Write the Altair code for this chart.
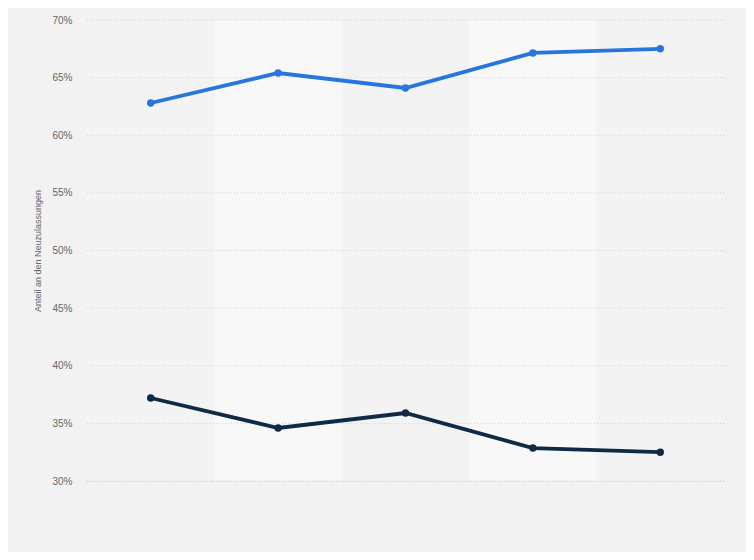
import altair as alt
import pandas as pd

categories = ["2017", "2018", "2019", "2020", "2021"]
series_a_name = "Gewerbliche Halter"
series_b_name = "Private Halter"
series_a = [62.8, 65.4, 64.1, 67.14, 67.5]
series_b = [37.2, 34.6, 35.9, 32.86, 32.5]
y_ticks = [30, 35, 40, 45, 50, 55, 60, 65, 70]

rows = []
for c, a, b in zip(categories, series_a, series_b):
    rows.append({"cat": c, "series": series_a_name, "value": a})
    rows.append({"cat": c, "series": series_b_name, "value": b})
df = pd.DataFrame(rows)

bands = pd.DataFrame({"cat": categories, "alt": [i % 2 for i in range(len(categories))]})

W, H = 637, 461

xscale = alt.Scale(type="band", domain=categories, paddingInner=0, paddingOuter=0)
yscale = alt.Scale(domain=[30, 70], nice=False, zero=False)

band_layer = alt.Chart(bands).mark_rect().encode(
    x=alt.X("cat:N", scale=xscale, axis=None, sort=categories),
    y=alt.value(0),
    y2=alt.value(H),
    color=alt.Color("alt:N", scale=alt.Scale(domain=[0, 1], range=["#f3f3f3", "#f8f8f8"]), legend=None),
)

grid_layer = alt.Chart(df).mark_point(opacity=0).encode(
    y=alt.Y(
        "value:Q",
        scale=yscale,
        axis=alt.Axis(
            values=y_ticks,
            labelExpr="datum.value + '%'",
            title="Anteil an den Neuzulassungen",
            titleFontSize=9,
            titleFontWeight="normal",
            titleColor="#666666",
            titleFont="Liberation Sans",
            titlePadding=9,
            labelFont="Liberation Sans",
            labelFontSize=10,
            labelColor="#666666",
            labelPadding=15,
            ticks=False,
            domain=False,
            grid=True,
            gridColor="#cfcfcf",
            gridDash=[1, 2],
            gridWidth=1,
            zindex=0,
        ),
    ),
)

grid_lines = alt.Chart(pd.DataFrame({"tick": y_ticks})).mark_rule(
    color="#d2d2d2", strokeDash=[1, 2], strokeWidth=1
).encode(
    y=alt.Y("tick:Q", scale=yscale),
    x=alt.value(0),
    x2=alt.value(W),
)

line_layer = alt.Chart(df).mark_line(strokeWidth=3.8, point=alt.OverlayMarkDef(size=55, filled=True, opacity=1)).encode(
    x=alt.X("cat:N", scale=xscale, axis=None, sort=categories, bandPosition=0.5),
    y=alt.Y("value:Q", scale=yscale),
    color=alt.Color(
        "series:N",
        scale=alt.Scale(domain=[series_a_name, series_b_name], range=["#2876dd", "#0f2a46"]),
        legend=None,
    ),
)

chart = (
    alt.layer(band_layer, grid_layer, grid_lines, line_layer)
    .resolve_scale(color="independent")
    .properties(
        width=W,
        height=H,
        background="#f2f2f2",
        padding={"left": 79, "top": 12, "right": 22, "bottom": 71},
        autosize=alt.AutoSizeParams(type="none"),
    )
    .configure_view(stroke=None)
)

chart.save("out.html", embed_options={"renderer": "svg", "actions": False})
